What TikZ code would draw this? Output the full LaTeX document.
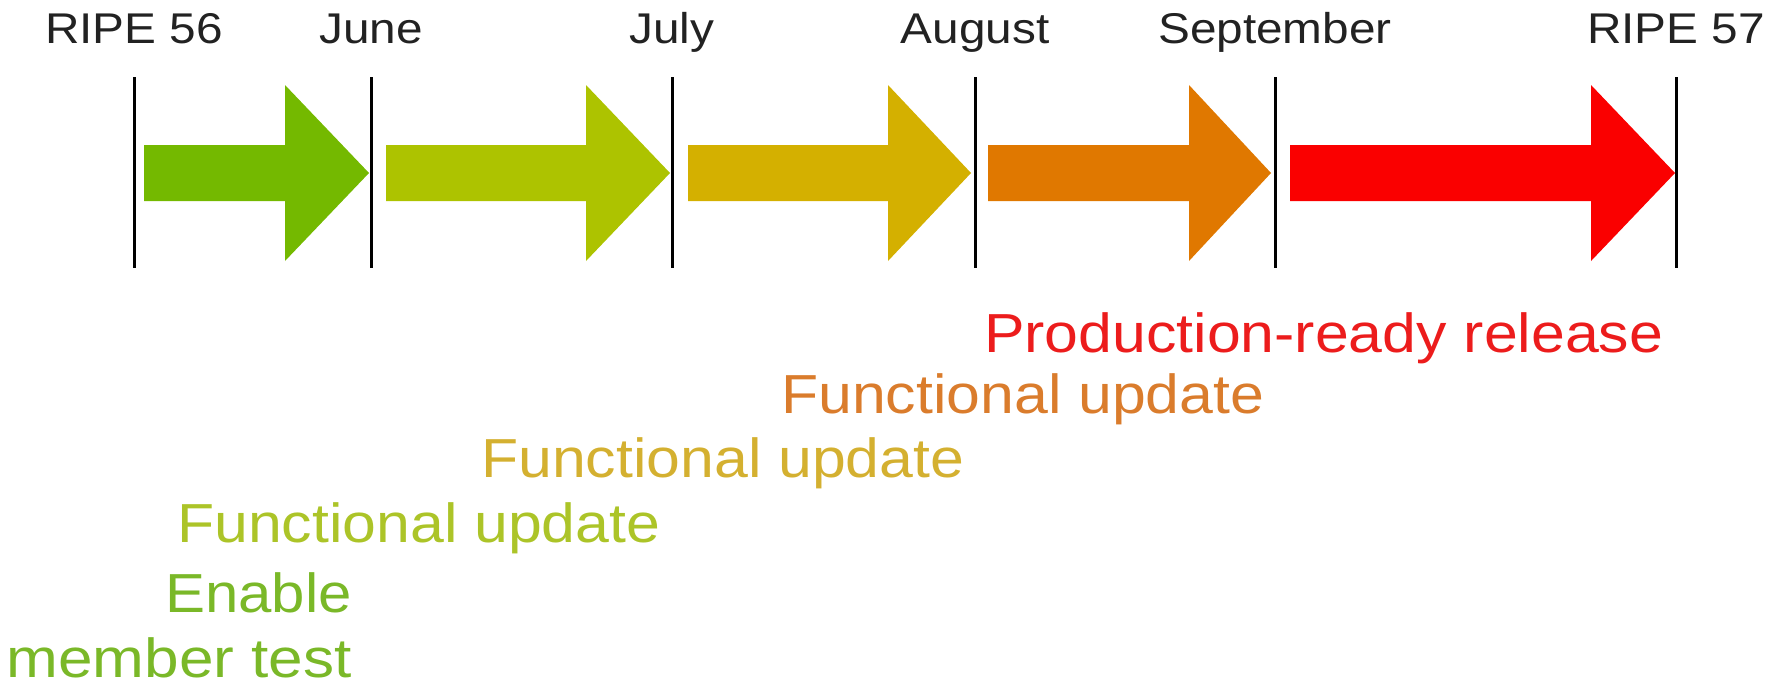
\documentclass[tikz,border=0pt]{standalone}
\usepackage{fontspec}
\setmainfont{Liberation Sans}
\definecolor{cGreen}{RGB}{116,185,0}
\definecolor{cLime}{RGB}{173,195,0}
\definecolor{cGold}{RGB}{212,176,0}
\definecolor{cOrange}{RGB}{224,120,0}
\definecolor{cRed}{RGB}{250,0,0}
\definecolor{tGreen}{RGB}{122,184,40}
\definecolor{tLime}{RGB}{172,196,40}
\definecolor{tGold}{RGB}{212,176,48}
\definecolor{tOrange}{RGB}{218,124,44}
\definecolor{tRed}{RGB}{236,28,28}
\definecolor{tDark}{RGB}{34,34,34}
\begin{document}
\begin{tikzpicture}[x=1pt,y=-1pt,
  month/.style={anchor=base, inner sep=0pt, text=tDark, font=\fontsize{43}{50}\selectfont},
  milestone/.style={anchor=base west, inner sep=0pt, font=\fontsize{55}{67}\selectfont},
  tick/.style={line width=3pt, black},
  ]
\useasboundingbox (0,0) rectangle (1784,686);
% month labels and tick lines
\foreach \x/\n/\t in {134/r56/RIPE 56, 371/jun/June, 672/jul/July, 975/aug/August, 1275/sep/September, 1676/r57/RIPE 57}{
  \node[month] (\n) at (\x,43) {\scalebox{1.11}[1]{\t}};
  \coordinate (\n-top) at (\x,77);
  \coordinate (\n-bot) at (\x,268);
  \draw[tick] (\n-top) -- (\n-bot);
}
% arrows
\foreach \l/\b/\t/\c in {144/285/369/cGreen, 386/586/670/cLime, 688/888/971/cGold, 988/1189/1271/cOrange, 1290/1591/1675/cRed}{
  \fill[\c] (\l,145) -- (\b,145) -- (\b,85) -- (\t,173) -- (\b,261) -- (\b,201) -- (\l,201) -- cycle;
}
% milestone labels
\node[milestone, text=tRed] (prod) at (984,352) {\scalebox{1.105}[1]{Production-ready release}};
\node[milestone, text=tOrange] (fu4) at (781,413) {\scalebox{1.105}[1]{Functional update}};
\node[milestone, text=tGold] (fu3) at (481,477) {\scalebox{1.105}[1]{Functional update}};
\node[milestone, text=tLime] (fu2) at (177,542) {\scalebox{1.105}[1]{Functional update}};
\node[milestone, anchor=base east, text=tGreen] (enable) at (352,612) {\scalebox{1.09}[1]{Enable}};
\node[milestone, anchor=base east, text=tGreen] (member) at (352,677) {\scalebox{1.13}[1]{member test}};
\end{tikzpicture}
\end{document}
